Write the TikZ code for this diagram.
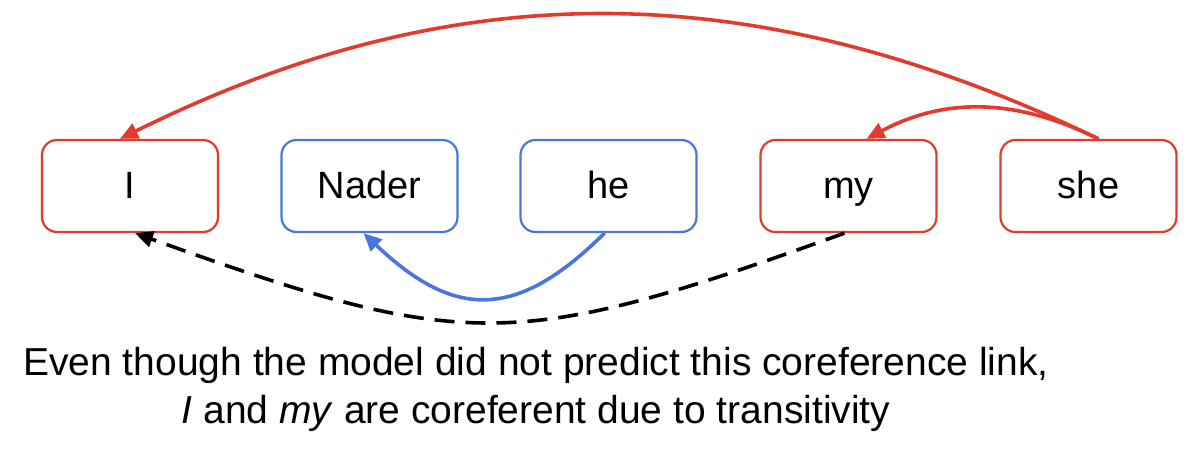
\documentclass[tikz,border=0pt]{standalone}
\usepackage{fontspec}
\setmainfont{Liberation Sans}
\usetikzlibrary{arrows.meta,calc}
\definecolor{cred}{RGB}{226,59,46}
\definecolor{cblue}{RGB}{74,117,225}
\begin{document}
\begin{tikzpicture}[x=1pt,y=-1pt,
  tok/.style={draw,line width=2.2pt,rounded corners=15pt,minimum width=176pt,minimum height=92pt,
    inner sep=0pt,font=\fontsize{38}{44}\selectfont,text height=30pt,text depth=6pt},
  redtok/.style={tok,draw=cred},
  bluetok/.style={tok,draw=cblue},
  link/.style={line width=3.6pt,-{Triangle[length=18pt,width=16pt]}},
  redlink/.style={link,draw=cred},
  bluelink/.style={link,draw=cblue},
  translink/.style={link,draw=black,dash pattern=on 20pt off 11pt},
  caption/.style={anchor=base,inner sep=0pt,font=\fontsize{39}{48}\selectfont}]
\useasboundingbox (0,0) rectangle (1204,452);
\node[redtok]  (I)     at (130,186)   {I};
\node[bluetok] (Nader) at (369.5,186) {Nader};
\node[bluetok] (he)    at (608.5,186) {he};
\node[redtok]  (my)    at (848.5,186) {my};
\node[redtok]  (she)   at (1088.5,186) {she};
\coordinate (sheT) at ($(she.north)+(10,0)$);
\draw[redlink] (sheT) .. controls (754,-27) and (455,-27) .. ($(I.north)+(-10,0)$);
\draw[redlink] (sheT) .. controls (1010,95) and (940,100) .. ($(my.north)+(18,0)$);
\draw[bluelink] ($(he.south)+(-4,0)$) .. controls (517,320) and (455,320) .. ($(Nader.south)+(-6,0)$);
\draw[translink] ($(my.south)+(-4,0)$) .. controls (515,352) and (465,352) .. ($(I.south)+(5,0)$);
\node[caption] (cap1) at (536,375) {Even though the model did not predict this coreference link,};
\node[caption] (cap2) at (536,423) {\textit{I} and \textit{my} are coreferent due to transitivity};
\end{tikzpicture}
\end{document}
